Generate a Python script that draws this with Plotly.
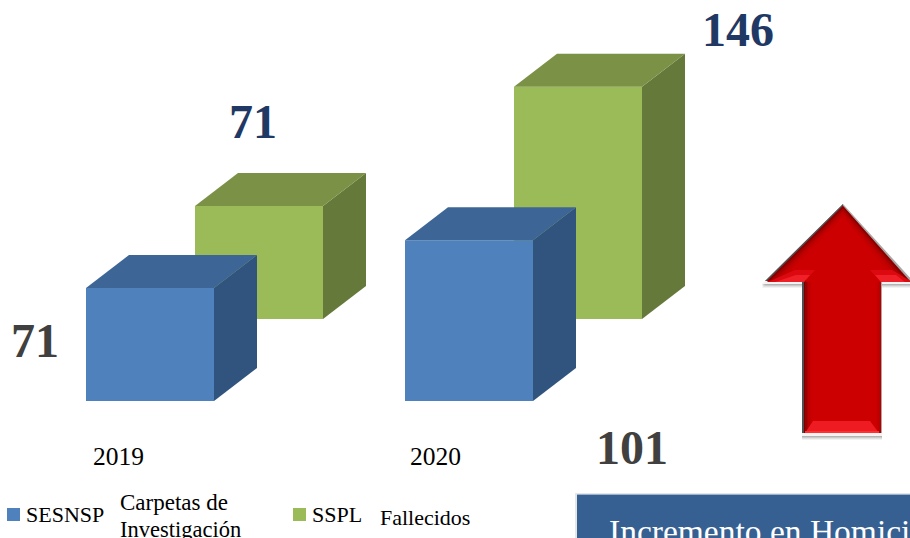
import plotly.graph_objects as go

# Data
years = ["2019", "2020"]
sesnsp = [71, 101]
sspl = [71, 146]
series_names = ["SESNSP", "SSPL"]
note_lines = ["Carpetas de", "Investigación", "Fallecidos"]
callout = "Incremento en Homici"

W, H = 910, 538
px_per_unit = 1.591
px_per_cat = 319
font = "Liberation Serif"


def xp(p):
    return p / W


def yp(p):
    return 1 - p / H


def poly(points, color, opacity=1.0):
    path = "M " + " L ".join(f"{xp(a):.5f},{yp(b):.5f}" for a, b in points) + " Z"
    return dict(type="path", xref="paper", yref="paper", path=path, fillcolor=color,
                line=dict(width=0), opacity=opacity, layer="above")


def rect(x0, y0, x1, y1, color, opacity=1.0):
    return poly([(x0, y0), (x1, y0), (x1, y1), (x0, y1)], color, opacity)


# Axis: x in categories, y in values; bars are placed in the oblique view
x_min = -117 / px_per_cat
x_max = x_min + W / px_per_cat
y_max = 401 / px_per_unit
y_min = y_max - H / px_per_unit

bar_w = 128 / px_per_cat
depth_x = 43 / px_per_cat
depth_y = 33 / px_per_unit
blue_off = 33 / px_per_cat - bar_w / 2          # left edge offset relative to category
green_off_x = 109 / px_per_cat
green_base = 82 / px_per_unit


def faces(values, offset, base, side_color, top_color, name):
    traces = []
    for i, v in enumerate(values):
        l = i + offset
        r = l + bar_w
        t = base + v
        b = base
        traces.append(go.Scatter(
            x=[r, r + depth_x, r + depth_x, r, r], y=[b, b + depth_y, t + depth_y, t, b],
            mode="lines", fill="toself", fillcolor=side_color, line=dict(width=0),
            showlegend=False, hoverinfo="skip", name=name))
        traces.append(go.Scatter(
            x=[l, l + depth_x, r + depth_x, r, l], y=[t, t + depth_y, t + depth_y, t, t],
            mode="lines", fill="toself", fillcolor=top_color, line=dict(width=0),
            showlegend=False, hoverinfo="skip", name=name))
    return traces


fig = go.Figure()
idx = list(range(len(years)))
fig.add_trace(go.Bar(x=idx, y=sspl, base=[green_base] * 2, offset=blue_off + green_off_x, width=bar_w,
                     marker=dict(color="#9BBB59", line=dict(width=0)), name=series_names[1], showlegend=False))
fig.add_trace(go.Bar(x=idx, y=sesnsp, base=[0, 0], offset=blue_off, width=bar_w,
                     marker=dict(color="#4F81BD", line=dict(width=0)), name=series_names[0], showlegend=False))
for tr in faces(sspl, blue_off + green_off_x, green_base, "#657A3A", "#7A9146", series_names[1]):
    fig.add_trace(tr)
for tr in faces(sesnsp, blue_off, 0, "#31547F", "#3D6696", series_names[0]):
    fig.add_trace(tr)

shapes = []
# Arrow: shadow, rim, body, bevels
outer = [(843, 203), (913, 283), (882, 283), (882, 435), (802, 435), (802, 283), (762, 283)]
for dy, op in ((5, .10), (4, .15), (3, .22), (2, .30)):
    shapes.append(poly([(a, b + dy) for a, b in outer], "#808080", op))
shapes.append(poly([(a, b + 1) for a, b in outer], "#F4F4F4"))
shapes.append(poly([(843, 204), (913, 281), (882, 281), (882, 433), (802, 433), (802, 281), (765, 281)], "#A8A8A8"))
shapes.append(poly([(843, 204), (765, 281), (802, 281), (802, 433), (804, 433), (804, 280), (770, 280), (843, 209)], "#505050"))
body = [(843, 206), (910, 282), (881, 282), (881, 433), (804, 433), (804, 282), (767, 282)]
shapes.append(poly(body, "#CC0000"))
# shaft edge shading
for k, col in enumerate(["#7A0000", "#980000", "#AE0000", "#BC0000", "#C60000"]):
    shapes.append(rect(804 + k * 1.5, 282 if k else 278, 805.5 + k * 1.5, 433, col))
for k, col in enumerate(["#C60000", "#BC0000", "#B00000"]):
    shapes.append(rect(876.5 + k * 1.5, 282, 878 + k * 1.5, 433, col))
# head shading
for k, col in enumerate(["#8A0000", "#A80000", "#BA0000", "#C40000"]):
    d = k * 2.5
    shapes.append(poly([(843, 206 + d), (767 + d * 1.4, 281 - d * .15), (772 + d * 1.4, 280 - d * .15), (843, 209 + d)], col))
    shapes.append(poly([(843, 206 + d), (910 - d * 1.4, 281 - d * .15), (905 - d * 1.4, 280 - d * .15), (843, 209 + d)], col))
# bevels
shapes.append(poly([(768, 282), (795, 270), (815, 270), (804, 282)], "#DC0A10"))
shapes.append(poly([(775, 282), (796, 275), (810, 275), (804, 282)], "#F02028"))
shapes.append(poly([(870, 270), (892, 270), (912, 282), (881, 282)], "#DC0A10"))
shapes.append(poly([(875, 275), (896, 275), (905, 282), (881, 282)], "#F02028"))
shapes.append(poly([(805, 433), (879, 433), (870, 421), (813, 421)], "#EE1C22"))
shapes.append(rect(805, 431, 879, 433, "#FF3030"))
# Legend swatches
shapes.append(rect(7, 508, 20, 521, "#4F81BD"))
shapes.append(rect(293, 508, 306, 521, "#9BBB59"))
# Callout box
shapes.append(rect(575, 493, W, H, "#E6E6E6"))
shapes.append(rect(577, 494, W, H, "#376092"))
shapes.append(rect(577, 494, W, 495, "#9DB2CC"))


def note(px, py, text, size, color="#000000", bold=False, anchor="left"):
    return dict(xref="paper", yref="paper", x=xp(px), y=yp(py), text=f"<b>{text}</b>" if bold else text,
                showarrow=False, xanchor=anchor, yanchor="middle", align="left",
                font=dict(family=font, size=size, color=color))


navy = "#1F3864"
grey = "#404040"
annots = [
    note(738, 30, str(sspl[1]), 48, navy, True, "center"),
    note(253, 122, str(sspl[0]), 48, navy, True, "center"),
    note(35, 340, str(sesnsp[0]), 48, grey, True, "center"),
    note(632, 447, str(sesnsp[1]), 48, grey, True, "center"),
    note(118, 456, years[0], 25.5, anchor="center"),
    note(435, 456, years[1], 25.5, anchor="center"),
    note(24, 514, series_names[0], 22),
    note(310, 514, series_names[1], 22),
    note(118, 502, note_lines[0], 23),
    note(118, 529, note_lines[1], 22.5),
    note(378, 517, note_lines[2], 22),
    note(607, 531, callout, 33.5, "#FFFFFF"),
]

fig.update_layout(
    width=W, height=H, margin=dict(l=0, r=0, t=0, b=0, pad=0),
    paper_bgcolor="#FFFFFF", plot_bgcolor="#FFFFFF", barmode="overlay", showlegend=False,
    xaxis=dict(range=[x_min, x_max], visible=False, fixedrange=True),
    yaxis=dict(range=[y_min, y_max], visible=False, fixedrange=True),
    shapes=shapes, annotations=annots,
)
fig.write_html("out.html", config=dict(displayModeBar=False),
               post_script="document.body.style.margin='0';document.body.style.overflow='hidden';")
